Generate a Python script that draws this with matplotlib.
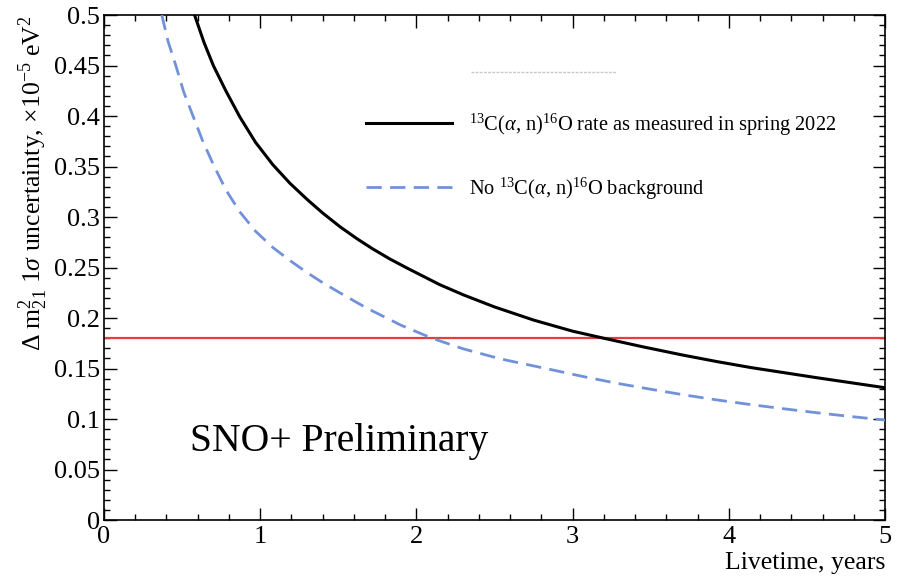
import matplotlib
matplotlib.use("Agg")
import matplotlib.pyplot as plt
from matplotlib.ticker import MultipleLocator, FormatStrFormatter, FuncFormatter

plt.rcParams['font.family'] = ['Liberation Serif', 'DejaVu Serif']
plt.rcParams['mathtext.fontset'] = 'custom'
plt.rcParams['mathtext.rm'] = 'Liberation Serif'
plt.rcParams['mathtext.it'] = 'Liberation Serif:italic'
plt.rcParams['mathtext.bf'] = 'Liberation Serif:bold'

# Data
measured_x = [0.58, 0.64, 0.70, 0.78, 0.87, 0.97, 1.08, 1.19, 1.30, 1.40, 1.51, 1.62, 1.72,
              1.83, 1.94, 2.15, 2.30, 2.50, 2.75, 3.00, 3.20, 3.45, 3.70, 3.92, 4.14,
              4.35, 4.56, 4.78, 5.00]
measured_y = [0.500, 0.473, 0.450, 0.425, 0.399, 0.374, 0.352, 0.3335, 0.3175, 0.304, 0.2905,
              0.2785, 0.2685, 0.2585, 0.2495, 0.233, 0.223, 0.211, 0.198, 0.187, 0.180,
              0.1715, 0.1635, 0.157, 0.151, 0.146, 0.141, 0.136, 0.131]

nobg_x = [0.37, 0.41, 0.46, 0.51, 0.57, 0.63, 0.70, 0.78, 0.87, 0.97, 1.08, 1.19, 1.30,
          1.40, 1.51, 1.68, 1.90, 2.10, 2.30, 2.54, 2.86, 3.07, 3.28, 3.50, 3.71, 3.92,
          4.14, 4.35, 4.56, 4.78, 5.00]
nobg_y = [0.500, 0.474, 0.450, 0.424, 0.400, 0.376, 0.352, 0.327, 0.305, 0.286, 0.270, 0.257,
          0.245, 0.235, 0.225, 0.210, 0.193, 0.180, 0.1695, 0.1595, 0.149, 0.142, 0.1355, 0.1295,
          0.124, 0.119, 0.1143, 0.1102, 0.1063, 0.1025, 0.099]

target_y = 0.18

label_measured = r"$^{13}$C($\alpha$, n)$^{16}$O rate as measured in spring 2022"
label_nobg = r"No $^{13}$C($\alpha$, n)$^{16}$O background"

fig = plt.figure(figsize=(9.02, 5.80), dpi=100)
ax = fig.add_axes([0.1153, 0.1034, 0.8659, 0.8706])

ax.axhline(target_y, color='#e4403a', lw=1.6, zorder=2)
l1, = ax.plot(measured_x, measured_y, color='black', lw=2.2, zorder=3,
              label=label_measured)
l2, = ax.plot(nobg_x, nobg_y, color='#7192d8', lw=2.0, zorder=3,
              dashes=(5.5, 3.0), label=label_nobg)

ax.set_xlim(0, 5)
ax.set_ylim(0, 0.5)

ax.xaxis.set_major_locator(MultipleLocator(1))
ax.xaxis.set_minor_locator(MultipleLocator(0.2))
ax.yaxis.set_major_locator(MultipleLocator(0.05))
ax.yaxis.set_minor_locator(MultipleLocator(0.01))

def yfmt(v, pos):
    s = ('%.2f' % v).rstrip('0').rstrip('.')
    return s if s else '0'
ax.yaxis.set_major_formatter(FuncFormatter(yfmt))
ax.xaxis.set_major_formatter(FormatStrFormatter('%d'))

ax.tick_params(which='both', direction='in', top=True, right=True,
               labelsize=19, color='black', width=1.0)
ax.tick_params(which='major', length=9)
ax.tick_params(which='minor', length=4.5)
ax.tick_params(axis='x', pad=4)
ax.tick_params(axis='y', pad=3)
for s in ax.spines.values():
    s.set_linewidth(1.2)

ax.set_xlabel('Livetime, years', fontsize=18.5, loc='right', labelpad=3)
ax.set_ylabel(r"$\Delta\ \mathrm{m}^{2}_{21}$ 1$\sigma$ uncertainty, $\times$10$^{-5}$ eV$^{2}$",
              fontsize=18.5, loc='top', labelpad=3)

ax.text(0.11, 0.155, 'SNO+ Preliminary', transform=ax.transAxes,
        fontsize=28.5, ha='left', va='center')

# faint ghost entry at top of legend area
ax.plot([0.47, 0.655], [0.888, 0.888], transform=ax.transAxes,
        color='#c8c8c8', lw=1.0, ls=(0, (2, 1)), zorder=1)

leg = ax.legend(handles=[l1, l2], loc='upper left',
                bbox_to_anchor=(0.325, 0.825), frameon=False,
                fontsize=14.7, handlelength=4.2, handletextpad=0.83,
                labelspacing=1.85, borderaxespad=0)

fig.savefig('out.png', dpi=100)
